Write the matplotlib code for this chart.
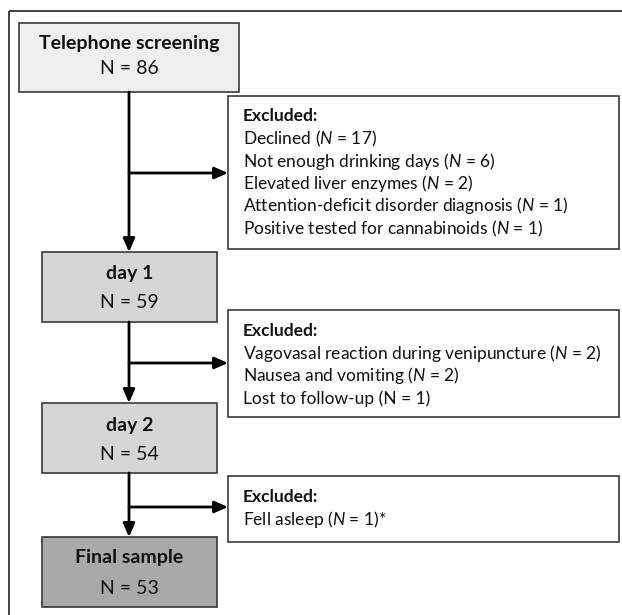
"""Participant flow chart: screening -> day 1 -> day 2 -> final sample."""
import matplotlib
matplotlib.use("Agg")
import matplotlib.pyplot as plt
from matplotlib.patches import Rectangle

plt.rcParams["font.family"] = ["Lato", "DejaVu Sans"]
plt.rcParams["mathtext.fontset"] = "custom"
plt.rcParams["mathtext.it"] = "Lato:italic"
plt.rcParams["mathtext.rm"] = "Lato"

# data
stage_labels = ["Telephone screening", "day 1", "day 2", "Final sample"]
stage_n = [86, 59, 54, 53]
stage_fill = ["#efefef", "#d6d6d6", "#d6d6d6", "#a9a9a9"]

excl_1_reasons = ["Declined", "Not enough drinking days", "Elevated liver enzymes",
                  "Attention-deficit disorder diagnosis", "Positive tested for cannabinoids"]
excl_1_n = [17, 6, 2, 1, 1]
excl_1_italic = [True, True, True, True, True]
excl_2_reasons = ["Vagovasal reaction during venipuncture", "Nausea and vomiting", "Lost to follow-up"]
excl_2_n = [2, 2, 1]
excl_2_italic = [True, True, False]
excl_3_reasons = ["Fell asleep"]
excl_3_n = [1]
excl_3_italic = [True]
excl_3_note = "*"

# layout in pixels (x0, y0, x1, y1), y grows downwards
stage_boxes = [(19, 23, 239, 92), (42, 252, 217, 322), (42, 403, 217, 473), (42, 537, 217, 607)]
stage_text_y = [(43, 68), (273, 303), (425, 455), (558, 588)]
excl_boxes = [(228, 96, 619, 249), (228, 310, 619, 417), (228, 476, 619, 542)]
excl_first_y = [116, 331, 497]
branch_y = [173, 363, 507]
spine_x = 129
line_gap = 22.5
BORDER = "#3a3a3a"
TXT = "#111111"

fig = plt.figure(figsize=(6.22, 6.15), dpi=100)
ax = fig.add_axes([0, 0, 1, 1])
ax.set_xlim(0, 622)
ax.set_ylim(615, 0)
ax.axis("off")

# outer frame (runs off the right and bottom edges)
ax.add_patch(Rectangle((9, 11), 700, 700, fill=False, ec="#333333", lw=1.3))

for (x0, y0, x1, y1), fill, label, n, (ty, ny) in zip(stage_boxes, stage_fill, stage_labels,
                                                      stage_n, stage_text_y):
    ax.add_patch(Rectangle((x0, y0), x1 - x0, y1 - y0, fc=fill, ec=BORDER, lw=1.2))
    cx = (x0 + x1) / 2
    ax.text(cx, ty, label, ha="center", va="center", fontsize=14, fontweight="bold", color=TXT)
    ax.text(cx, ny, f"N = {n}", ha="center", va="center", fontsize=14, color=TXT)


def reason_line(reason, n, italic, suffix=""):
    n_str = r"$N$" if italic else "N"
    return f"{reason} ({n_str} = {n}){suffix}"


excl_groups = [
    [reason_line(r, n, it) for r, n, it in zip(excl_1_reasons, excl_1_n, excl_1_italic)],
    [reason_line(r, n, it) for r, n, it in zip(excl_2_reasons, excl_2_n, excl_2_italic)],
    [reason_line(r, n, it, excl_3_note) for r, n, it in zip(excl_3_reasons, excl_3_n, excl_3_italic)],
]

for (x0, y0, x1, y1), y_first, lines in zip(excl_boxes, excl_first_y, excl_groups):
    ax.add_patch(Rectangle((x0, y0), x1 - x0, y1 - y0, fc="white", ec=BORDER, lw=1.2))
    ax.text(x0 + 15, y_first, "Excluded:", ha="left", va="center", fontsize=12.5,
            fontweight="bold", color=TXT)
    for i, line in enumerate(lines):
        ax.text(x0 + 15, y_first + line_gap * (i + 1), line, ha="left", va="center",
                fontsize=12.5, color=TXT)

arrow_kw = dict(arrowstyle="-|>,head_length=0.8,head_width=0.35", color="black", lw=2,
                shrinkA=0, shrinkB=0, mutation_scale=10)

# vertical flow between stages
for upper, lower in zip(stage_boxes[:-1], stage_boxes[1:]):
    ax.annotate("", xy=(spine_x, lower[1]), xytext=(spine_x, upper[3]), arrowprops=arrow_kw)

# branches to the exclusion boxes
for by, box in zip(branch_y, excl_boxes):
    ax.annotate("", xy=(box[0], by), xytext=(spine_x, by), arrowprops=arrow_kw)

fig.savefig("out.png", dpi=100)
